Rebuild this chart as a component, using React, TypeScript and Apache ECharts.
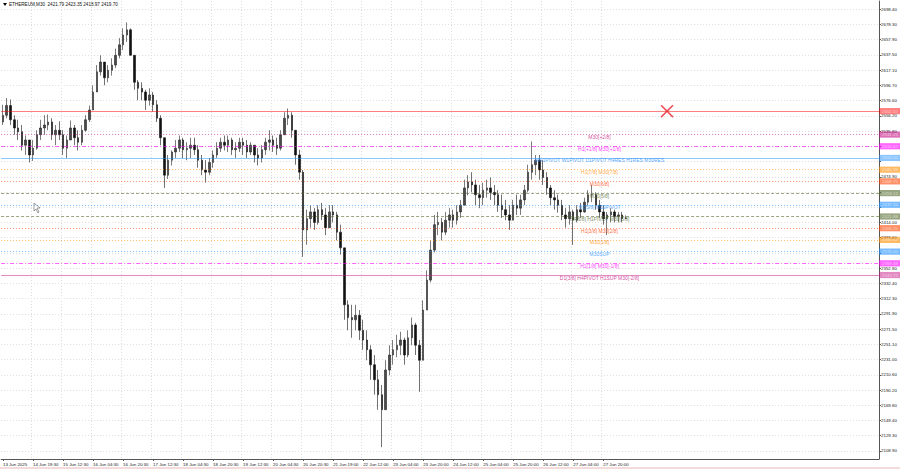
import React, { useEffect, useRef } from "react";
import * as echarts from "echarts";

// Time-axis labels, one every 8 candles (16 hours)
const timeLabels = [
  "13 Jun 2025", "14 Jun 19:30", "15 Jun 12:30", "16 Jun 04:30", "16 Jun 20:30",
  "17 Jun 12:30", "18 Jun 04:30", "18 Jun 20:30", "19 Jun 12:30", "20 Jun 04:30",
  "20 Jun 20:30", "21 Jun 19:00", "22 Jun 12:00", "23 Jun 04:00", "23 Jun 20:00",
  "24 Jun 12:00", "25 Jun 04:00", "25 Jun 20:00", "26 Jun 12:00", "27 Jun 04:00",
  "27 Jun 20:00",
];

// Price scale grid rows
const priceTicks = [
  2698.4, 2678.3, 2657.9, 2637.5, 2617.1, 2596.7, 2576.6, 2556.2, 2535.8, 2515.4,
  2495.3, 2474.9, 2454.5, 2434.4, 2414.0, 2393.6, 2373.2, 2352.8, 2332.4, 2312.3,
  2291.9, 2271.5, 2251.1, 2231.0, 2210.6, 2190.2, 2169.8, 2149.4, 2129.3, 2108.9,
];
// Grid rows whose price text sits fully under a level tag
const coveredTicks = [2515.4, 2495.3, 2454.5, 2434.4, 2373.2];

// Candles (2-hour steps); open of each candle is the previous close
const firstOpen = 2548;
const closes = [
  2557, 2570, 2551, 2540, 2535, 2517, 2524, 2504, 2513, 2531,
  2540, 2544, 2548, 2531, 2537, 2531, 2513, 2524, 2540, 2527,
  2521, 2537, 2551, 2564, 2588, 2615, 2628, 2607, 2617, 2624,
  2637, 2651, 2664, 2671, 2637, 2601, 2593, 2588, 2577, 2584,
  2571, 2553, 2527, 2477, 2497, 2508, 2513, 2524, 2511, 2513,
  2517, 2511, 2497, 2484, 2481, 2494, 2504, 2513, 2521, 2517,
  2524, 2511, 2513, 2521, 2517, 2508, 2517, 2504, 2500, 2511,
  2521, 2524, 2517, 2513, 2531, 2553, 2557, 2537, 2504, 2481,
  2404, 2419, 2428, 2414, 2431, 2424, 2407, 2428, 2424, 2401,
  2380, 2304, 2287, 2284, 2290, 2270, 2257, 2244, 2224, 2204,
  2184, 2164, 2217, 2237, 2244, 2250, 2257, 2237, 2260, 2277,
  2250, 2230, 2297, 2337, 2377, 2411, 2414, 2401, 2417, 2424,
  2417, 2428, 2437, 2460, 2468, 2464, 2451, 2447, 2457, 2460,
  2454, 2451, 2437, 2431, 2424, 2417, 2437, 2433, 2444, 2457,
  2481, 2491, 2497, 2484, 2474, 2460, 2447, 2444, 2437, 2424,
  2419, 2428, 2417, 2431, 2428, 2441, 2451, 2451, 2437, 2428,
  2419, 2424, 2428, 2422, 2424, 2419, 2419.7,
];
const highs = [
  2571, 2580, 2578, 2557, 2551, 2544, 2530, 2524, 2524, 2537,
  2551, 2557, 2558, 2553, 2544, 2549, 2537, 2530, 2550, 2544,
  2537, 2544, 2557, 2570, 2597, 2624, 2637, 2628, 2624, 2633,
  2646, 2660, 2673, 2681, 2673, 2630, 2604, 2601, 2591, 2593,
  2588, 2577, 2557, 2524, 2504, 2510, 2524, 2530, 2527, 2521,
  2527, 2527, 2517, 2504, 2497, 2500, 2510, 2521, 2527, 2530,
  2530, 2527, 2521, 2527, 2527, 2524, 2521, 2517, 2513, 2517,
  2527, 2537, 2530, 2527, 2537, 2561, 2566, 2561, 2537, 2511,
  2484, 2431, 2437, 2433, 2437, 2440, 2433, 2437, 2437, 2428,
  2411, 2377, 2310, 2304, 2304, 2297, 2284, 2270, 2250, 2237,
  2217, 2197, 2230, 2250, 2257, 2264, 2268, 2260, 2270, 2287,
  2280, 2257, 2310, 2350, 2390, 2424, 2428, 2420, 2428, 2433,
  2431, 2437, 2444, 2471, 2477, 2481, 2471, 2464, 2467, 2471,
  2474, 2464, 2457, 2451, 2444, 2437, 2444, 2451, 2451, 2464,
  2491, 2522, 2504, 2504, 2497, 2481, 2464, 2457, 2451, 2444,
  2433, 2437, 2431, 2437, 2440, 2447, 2457, 2464, 2454, 2444,
  2437, 2428, 2433, 2431, 2428, 2428, 2423.35,
];
const lows = [
  2544, 2553, 2544, 2531, 2524, 2510, 2504, 2494, 2496, 2511,
  2524, 2531, 2537, 2524, 2517, 2524, 2504, 2500, 2524, 2517,
  2510, 2517, 2535, 2548, 2567, 2590, 2610, 2597, 2601, 2610,
  2620, 2633, 2644, 2655, 2637, 2591, 2577, 2577, 2564, 2570,
  2562, 2548, 2517, 2460, 2472, 2490, 2500, 2508, 2500, 2497,
  2500, 2504, 2487, 2477, 2467, 2477, 2487, 2500, 2508, 2510,
  2508, 2504, 2500, 2508, 2504, 2500, 2504, 2494, 2490, 2494,
  2504, 2510, 2508, 2504, 2510, 2531, 2544, 2527, 2491, 2471,
  2368, 2384, 2407, 2404, 2411, 2417, 2397, 2407, 2414, 2390,
  2371, 2284, 2270, 2260, 2270, 2257, 2244, 2230, 2204, 2184,
  2164, 2114, 2170, 2210, 2224, 2234, 2237, 2224, 2234, 2250,
  2237, 2188, 2250, 2297, 2334, 2374, 2397, 2390, 2397, 2407,
  2407, 2411, 2420, 2437, 2450, 2454, 2437, 2433, 2437, 2447,
  2444, 2437, 2428, 2420, 2417, 2404, 2417, 2424, 2424, 2437,
  2454, 2471, 2477, 2471, 2464, 2451, 2437, 2431, 2427, 2417,
  2407, 2411, 2384, 2414, 2420, 2427, 2437, 2441, 2431, 2420,
  2411, 2397, 2414, 2414, 2414, 2414, 2418.97,
];

// Horizontal levels drawn on the chart
const levelPrices = [
  2562.5, 2531.25, 2515.62, 2500.0, 2484.38, 2468.75, 2453.12,
  2437.5, 2421.88, 2406.25, 2390.62, 2375.0, 2359.38, 2343.75,
];
const levelNames = [
  "",
  "M30[+2/8]",
  "H1[+1/8] M30[+1/8]",
  "MN1PIVOT W1PIVOT D1PIVOT H4RES H1RES M30RES",
  "H1[7/8] M30[7/8]",
  "M30[6/8]",
  "M30[5/8]",
  "H1[5/8] M30PIVOT",
  "H4[6/8] H1PIVOT M30[3/8]",
  "H1[3/8] M30[2/8]",
  "M30[1/8]",
  "M30SUP",
  "H1[1/8] M30[-1/8]",
  "D1[3/8] H4PIVOT H1SUP M30[-2/8]",
];

// Marker placed on the chart: [candle slot, price]
const crossMark = [177, 2562.5];

const header = "ETHEREUM,M30  2421.79 2423.35 2418.97 2419.70";

// Visual style of each level line (same order as levelPrices)
const levelStyle: { color: string; type: any; width: number }[] = [
  { color: "#ff0000", type: "solid", width: 1 },
  { color: "#c71585", type: [1, 2], width: 1 },
  { color: "#ff00ff", type: [4, 2, 1, 2], width: 1 },
  { color: "#1e90ff", type: "solid", width: 1 },
  { color: "#ff8c00", type: [1, 2], width: 1 },
  { color: "#ff4500", type: [1, 2], width: 1 },
  { color: "#556b2f", type: [3, 2], width: 1 },
  { color: "#1e90ff", type: [1, 2], width: 1 },
  { color: "#556b2f", type: [3, 2], width: 1 },
  { color: "#ff4500", type: [1, 2], width: 1 },
  { color: "#ff8c00", type: [1, 2], width: 1 },
  { color: "#1e90ff", type: [1, 2], width: 1 },
  { color: "#ff00ff", type: [4, 2, 1, 2], width: 1 },
  { color: "#c71585", type: "solid", width: 1 },
];

const FONT = "Liberation Sans";
const SLOTS = 234;
const LABEL_EVERY = 8;
const TEXT_SLOT = 159;

export default function App() {
  const ref = useRef<HTMLDivElement>(null);

  useEffect(() => {
    if (!ref.current) return;
    const chart = echarts.init(ref.current, undefined, { renderer: "svg" });

    const categories: string[] = [];
    for (let i = 0; i < SLOTS; i++) {
      const k = i / LABEL_EVERY;
      categories.push(i % LABEL_EVERY === 0 && k < timeLabels.length ? timeLabels[k] : "");
    }
    const isLabelSlot = (i: number) =>
      i % LABEL_EVERY === 0 && i / LABEL_EVERY < timeLabels.length;

    const candles = closes.map((c, i) => {
      const o = i === 0 ? firstOpen : closes[i - 1];
      const h = Math.max(highs[i], o, c);
      const l = Math.min(lows[i], o, c);
      return [o, c, l, h];
    });

    const markLines = levelPrices.map((p, k) => ({
      yAxis: p,
      lineStyle: {
        color: levelStyle[k].color,
        type: levelStyle[k].type,
        width: levelStyle[k].width,
        opacity: levelStyle[k].type === "solid" ? 0.5 : 0.6,
      },
      label: {
        show: true,
        position: "end",
        distance: 0,
        formatter: p.toFixed(2),
        backgroundColor: levelStyle[k].color,
        color: "#ffffff",
        fontSize: 4.4,
        fontFamily: FONT,
        padding: [1.2, 3, 1, 3],
      },
    }));

    const levelTextData = levelPrices
      .map((p, k) => ({ p, k }))
      .filter(({ k }) => levelNames[k] !== "")
      .map(({ p, k }) => ({
        value: [TEXT_SLOT, p],
        label: { color: levelStyle[k].color, formatter: levelNames[k] },
      }));

    const labelTicks = priceTicks.filter((t) => !coveredTicks.includes(t));

    chart.setOption({
      animation: false,
      backgroundColor: "#ffffff",
      grid: { left: 0, right: 21, top: 1, bottom: 10, containLabel: false },
      xAxis: {
        type: "category",
        data: categories,
        boundaryGap: true,
        axisLine: { show: true, lineStyle: { color: "#555", width: 1 } },
        axisTick: {
          show: true,
          alignWithLabel: true,
          interval: (i: number) => isLabelSlot(i),
          length: 2,
          lineStyle: { color: "#555" },
        },
        axisLabel: {
          show: true,
          interval: 0,
          align: "left",
          margin: 3,
          fontSize: 4.4,
          fontFamily: FONT,
          color: "#222",
          formatter: (v: string) => v,
        },
        splitLine: {
          show: true,
          interval: (i: number) => isLabelSlot(i) && i > 0,
          lineStyle: { color: "#dddddd", type: [1, 2], width: 1 },
        },
      },
      yAxis: {
        type: "value",
        position: "right",
        min: 2098.2,
        max: 2709.5,
        scale: true,
        axisLine: { show: true, lineStyle: { color: "#555", width: 1 } },
        axisTick: { show: true, length: 2, customValues: priceTicks, lineStyle: { color: "#555" } },
        axisLabel: {
          show: true,
          customValues: labelTicks,
          margin: 2,
          fontSize: 4.4,
          fontFamily: FONT,
          color: "#222",
          formatter: (v: number) => v.toFixed(2),
        },
        splitLine: {
          show: true,
          lineStyle: { color: "#dddddd", type: [1, 2], width: 1 },
        },
      },
      series: [
        {
          type: "candlestick",
          data: candles,
          barWidth: 2,
          itemStyle: {
            color: "#4a4a4a",
            color0: "#111111",
            borderColor: "#222222",
            borderColor0: "#111111",
            borderWidth: 0.6,
          },
          markLine: {
            silent: true,
            symbol: ["none", "none"],
            animation: false,
            data: markLines,
          },
          z: 3,
        },
        {
          type: "scatter",
          data: levelTextData,
          symbolSize: 0,
          silent: true,
          label: {
            show: true,
            position: "inside",
            offset: [0, 2.5],
            fontSize: 5,
            fontFamily: FONT,
          },
          z: 4,
        },
        {
          type: "scatter",
          data: [crossMark],
          symbol:
            "path://M1 0 L6 5 L11 0 L12 1 L7 6 L12 11 L11 12 L6 7 L1 12 L0 11 L5 6 L0 1 Z",
          symbolSize: 13,
          itemStyle: { color: "#e8202a" },
          silent: true,
          z: 5,
        },
      ],
      graphic: [
        {
          type: "polygon",
          shape: { points: [[3, 3], [7, 3], [5, 6]] },
          style: { fill: "#000" },
        },
        {
          type: "text",
          left: 9,
          top: 2,
          style: { text: header, fontSize: 4.6, fontFamily: FONT, fill: "#111" },
        },
        {
          type: "polygon",
          shape: {
            points: [[34, 203], [34, 211], [36, 209], [38, 213], [39, 212], [37, 208], [40, 208]],
          },
          style: { fill: "#ffffff", stroke: "#777", lineWidth: 0.7 },
        },
        {
          type: "line",
          shape: { x1: 0, y1: 468, x2: 900, y2: 468 },
          style: { stroke: "#e8b8b8", lineWidth: 1 },
        },
      ],
    });

    return () => chart.dispose();
  }, []);

  return (
    <div
      ref={ref}
      style={{ position: "fixed", left: 0, top: 0, width: 900, height: 469 }}
    />
  );
}
